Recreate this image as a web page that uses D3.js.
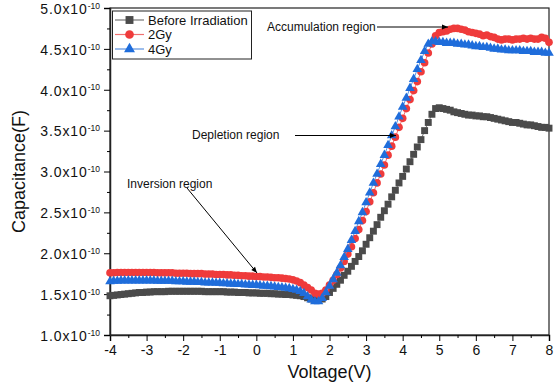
<!DOCTYPE html>
<html>
<head>
<meta charset="utf-8">
<script src="https://cdn.jsdelivr.net/npm/d3@7"></script>
<style>
body { margin: 0; background: #fff; }
text { font-family: "Liberation Sans", Arial, sans-serif; }
</style>
</head>
<body>
<div id="chart-area"></div>
<script>
let width = 557,
height = 390;

// Data (capacitance in units of 1e-10 F), voltage sweep -4 .. 8 V, step 0.1
let voltage = d3.range(0, 121).map(i => Math.round((-4 + i * 0.1) * 10) / 10)

let beforeIrr = [
	1.48,1.485,1.49,1.495,1.50,1.505,1.51,1.515,1.52,1.52,
	1.525,1.525,1.53,1.53,1.53,1.53,1.535,1.535,1.535,1.535,
	1.535,1.535,1.535,1.535,1.535,1.535,1.53,1.53,1.53,1.53,
	1.53,1.53,1.525,1.525,1.525,1.52,1.52,1.52,1.515,1.515,
	1.515,1.51,1.51,1.51,1.505,1.505,1.50,1.50,1.495,1.495,
	1.49,1.485,1.48,1.47,1.455,1.44,1.43,1.43,1.44,1.47,
	1.52,1.57,1.62,1.67,1.73,1.78,1.84,1.90,1.96,2.03,
	2.11,2.19,2.27,2.35,2.44,2.52,2.60,2.69,2.77,2.86,
	2.94,3.03,3.12,3.21,3.30,3.39,3.50,3.60,3.70,3.77,
	3.78,3.77,3.76,3.75,3.73,3.72,3.71,3.70,3.69,3.69,
	3.68,3.68,3.67,3.67,3.66,3.65,3.64,3.63,3.62,3.61,
	3.60,3.60,3.59,3.58,3.57,3.57,3.56,3.55,3.54,3.54,
	3.53]

let gy2 = [
	1.76,1.76,1.765,1.765,1.765,1.765,1.765,1.765,1.765,1.765,
	1.765,1.765,1.765,1.76,1.76,1.76,1.76,1.76,1.755,1.755,
	1.755,1.755,1.75,1.75,1.75,1.75,1.745,1.745,1.745,1.74,
	1.74,1.74,1.735,1.735,1.73,1.73,1.725,1.725,1.72,1.72,
	1.715,1.715,1.71,1.71,1.705,1.70,1.70,1.695,1.69,1.685,
	1.675,1.66,1.64,1.61,1.58,1.55,1.51,1.50,1.51,1.55,
	1.61,1.67,1.74,1.82,1.90,1.99,2.08,2.18,2.29,2.40,
	2.51,2.63,2.74,2.86,2.97,3.08,3.20,3.31,3.42,3.54,
	3.65,3.77,3.88,3.99,4.10,4.22,4.33,4.45,4.56,4.66,
	4.70,4.71,4.72,4.74,4.75,4.75,4.74,4.73,4.71,4.70,
	4.69,4.68,4.66,4.67,4.65,4.64,4.62,4.61,4.62,4.62,
	4.61,4.62,4.62,4.63,4.62,4.63,4.62,4.62,4.64,4.63,
	4.58]

let gy4 = [
	1.655,1.66,1.66,1.665,1.665,1.665,1.665,1.665,1.665,1.665,
	1.665,1.665,1.665,1.66,1.66,1.66,1.66,1.66,1.655,1.655,
	1.655,1.65,1.65,1.65,1.645,1.645,1.64,1.64,1.64,1.635,
	1.635,1.63,1.63,1.625,1.625,1.62,1.62,1.615,1.615,1.61,
	1.61,1.605,1.60,1.60,1.595,1.59,1.585,1.58,1.575,1.57,
	1.56,1.55,1.535,1.51,1.47,1.43,1.41,1.41,1.45,1.52,
	1.60,1.68,1.76,1.85,1.95,2.05,2.16,2.27,2.39,2.50,
	2.62,2.74,2.86,2.97,3.09,3.20,3.32,3.44,3.55,3.67,
	3.79,3.90,4.02,4.13,4.25,4.36,4.47,4.56,4.59,4.59,
	4.58,4.58,4.57,4.57,4.57,4.56,4.56,4.55,4.55,4.54,
	4.53,4.53,4.52,4.52,4.51,4.50,4.50,4.49,4.49,4.48,
	4.48,4.48,4.48,4.47,4.47,4.47,4.46,4.46,4.46,4.45,
	4.45]

let seriesNames = ['Before Irradiation', '2Gy', '4Gy']
let xTicks = [-4, -3, -2, -1, 0, 1, 2, 3, 4, 5, 6, 7, 8]
let yTicks = [1.0, 1.5, 2.0, 2.5, 3.0, 3.5, 4.0, 4.5, 5.0]

let series = [
	{name: seriesNames[0], values: beforeIrr, color: '#4b4b4b', line: '#777', symbol: d3.symbolSquare, size: 48},
	{name: seriesNames[1], values: gy2, color: '#ef3b3b', line: '#f07070', symbol: d3.symbolCircle, size: 46},
	{name: seriesNames[2], values: gy4, color: '#1f6ddb', line: '#5a90e0', symbol: d3.symbolTriangle, size: 40}
]

let margin = {left: 110, right: 8, top: 8, bottom: 55}

let svg = d3.select("#chart-area").append("svg")
	.attr("width", width)
	.attr("height", height)

let x = d3.scaleLinear().domain([-4, 8]).range([margin.left, width - margin.right])
let y = d3.scaleLinear().domain([1.0, 5.0]).range([height - margin.bottom, margin.top])

// frame
svg.append('rect')
	.attr('x', x(-4)).attr('y', y(5))
	.attr('width', x(8) - x(-4)).attr('height', y(1) - y(5))
	.attr('fill', 'none').attr('stroke', '#222').attr('stroke-width', 1.2)

// x axis
let xAxis = svg.append('g')
	.attr('transform', 'translate(0,' + y(1) + ')')
	.call(d3.axisBottom(x).tickValues(xTicks).tickSize(6).tickPadding(4).tickFormat(d3.format('d')))
xAxis.select('.domain').attr('stroke', '#222').attr('stroke-width', 1.5)
xAxis.selectAll('text').attr('font-size', 14).attr('fill', '#111')
	.text(d => d < 0 ? '-' + Math.abs(d) : d)
svg.append('g')
	.attr('transform', 'translate(0,' + y(1) + ')')
	.call(d3.axisBottom(x).tickValues(d3.range(-3.5, 8, 1)).tickSize(3).tickFormat(''))
	.call(g => g.select('.domain').remove())

// y axis
let yAxis = svg.append('g')
	.attr('transform', 'translate(' + x(-4) + ',0)')
	.call(d3.axisLeft(y).tickValues(yTicks).tickSize(6).tickPadding(3).tickFormat(''))
yAxis.select('.domain').attr('stroke', '#222').attr('stroke-width', 1.5)
yAxis.selectAll('.tick').append('text')
	.attr('x', -10).attr('dy', '0.38em')
	.attr('text-anchor', 'end').attr('fill', '#111').attr('font-size', 14)
	.each(function(d) {
		let t = d3.select(this)
		t.append('tspan').attr('letter-spacing', 0.9).text(d.toFixed(1) + 'x10')
		t.append('tspan').attr('font-size', 8.5).attr('dy', '-0.6em').text('-10')
	})
svg.append('g')
	.attr('transform', 'translate(' + x(-4) + ',0)')
	.call(d3.axisLeft(y).tickValues(d3.range(1.25, 5, 0.5)).tickSize(3).tickFormat(''))
	.call(g => g.select('.domain').remove())

// axis titles
svg.append('text')
	.attr('x', (x(-4) + x(8)) / 2).attr('y', 378)
	.attr('text-anchor', 'middle').attr('font-size', 18).attr('fill', '#111')
	.text('Voltage(V)')
svg.append('text')
	.attr('transform', 'translate(25,' + ((y(1) + y(5)) / 2) + ') rotate(-90)')
	.attr('text-anchor', 'middle').attr('font-size', 18).attr('fill', '#111')
	.text('Capacitance(F)')

// series
let line = d3.line().x((d, i) => x(voltage[i])).y(d => y(d))

series.forEach(s => {
	svg.append('path')
		.attr('d', line(s.values))
		.attr('fill', 'none')
		.attr('stroke', s.line)
		.attr('stroke-width', 1)
	svg.append('g').selectAll('path')
		.data(s.values)
		.enter().append('path')
		.attr('d', d3.symbol().type(s.symbol).size(s.size))
		.attr('transform', (d, i) => 'translate(' + x(voltage[i]) + ',' + y(d) + ')')
		.attr('fill', s.color)
})

// legend
let legend = svg.append('g')
legend.append('rect')
	.attr('x', 112.5).attr('y', 11).attr('width', 139).attr('height', 48)
	.attr('fill', '#fff').attr('stroke', '#222').attr('stroke-width', 1)
series.forEach((s, i) => {
	let ly = 20 + i * 14.5
	legend.append('line')
		.attr('x1', 115).attr('x2', 144).attr('y1', ly).attr('y2', ly)
		.attr('stroke', s.line).attr('stroke-width', 1.2)
	legend.append('path')
		.attr('d', d3.symbol().type(s.symbol).size(s.size * 1.3))
		.attr('transform', 'translate(129.5,' + ly + ')')
		.attr('fill', s.color)
	legend.append('text')
		.attr('x', 148).attr('y', ly).attr('dy', '0.36em')
		.attr('font-size', 13).attr('fill', '#111')
		.text(s.name)
})

// annotations
let defs = svg.append('defs')
defs.append('marker')
	.attr('id', 'arrow').attr('viewBox', '0 0 10 10')
	.attr('refX', 10).attr('refY', 5)
	.attr('markerWidth', 8).attr('markerHeight', 6)
	.attr('orient', 'auto')
	.append('path').attr('d', 'M0,1 L10,5 L0,9 Z').attr('fill', '#000')

let notes = [
	{text: 'Accumulation region', tx: 267, ty: 27, x1: 377, y1: 27, x2: 448, y2: 27},
	{text: 'Depletion region', tx: 192, ty: 135, x1: 295, y1: 135.5, x2: 396, y2: 135.5},
	{text: 'Inversion region', tx: 127, ty: 184, x1: 187, y1: 188, x2: 257, y2: 273}
]
notes.forEach(n => {
	svg.append('text')
		.attr('x', n.tx).attr('y', n.ty).attr('dy', '0.36em')
		.attr('font-size', 12).attr('fill', '#111')
		.text(n.text)
	svg.append('line')
		.attr('x1', n.x1).attr('y1', n.y1).attr('x2', n.x2).attr('y2', n.y2)
		.attr('stroke', '#000').attr('stroke-width', 1)
		.attr('marker-end', 'url(#arrow)')
})
</script>
</body>
</html>
